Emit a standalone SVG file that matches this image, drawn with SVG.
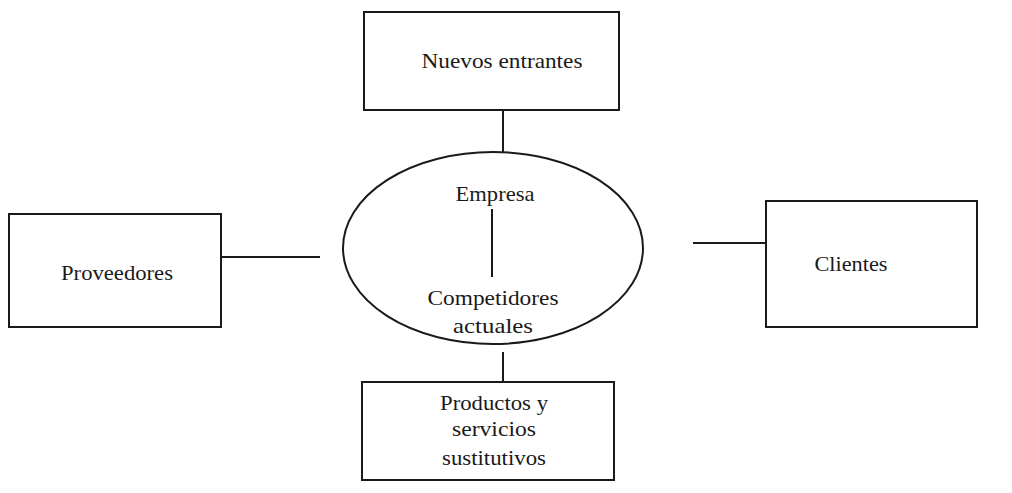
<svg xmlns="http://www.w3.org/2000/svg" width="1012" height="493" viewBox="0 0 1012 493">
<style>
.box{fill:#ffffff;stroke:#1a1a1a;stroke-width:2}
.ln{stroke:#1a1a1a;stroke-width:2;fill:none}
.t{font-family:"Liberation Serif","Times New Roman",serif;font-size:21px;fill:#1a1a1a;text-anchor:middle}
</style>
<rect width="1012" height="493" fill="#ffffff"/>
<g id="nuevos-entrantes">
<rect class="box" x="364" y="12" width="255" height="98"/>
<text class="t" x="502" y="68" textLength="161" lengthAdjust="spacingAndGlyphs">Nuevos entrantes</text>
</g>
<g id="empresa">
<ellipse class="box" cx="493" cy="248" rx="150" ry="96"/>
<text class="t" x="495" y="201" textLength="79" lengthAdjust="spacingAndGlyphs">Empresa</text>
<text class="t" x="493" y="305" textLength="131" lengthAdjust="spacingAndGlyphs">Competidores</text>
<text class="t" x="493" y="333" textLength="80" lengthAdjust="spacingAndGlyphs">actuales</text>
</g>
<g id="proveedores">
<rect class="box" x="9" y="214" width="212" height="113"/>
<text class="t" x="117" y="280" textLength="112" lengthAdjust="spacingAndGlyphs">Proveedores</text>
</g>
<g id="clientes">
<rect class="box" x="766" y="201" width="211" height="126"/>
<text class="t" x="851" y="271" textLength="73" lengthAdjust="spacingAndGlyphs">Clientes</text>
</g>
<g id="productos">
<rect class="box" x="362" y="382" width="252" height="98"/>
<text class="t" x="494" y="410" textLength="108" lengthAdjust="spacingAndGlyphs">Productos y</text>
<text class="t" x="494" y="436" textLength="84" lengthAdjust="spacingAndGlyphs">servicios</text>
<text class="t" x="494" y="465" textLength="104" lengthAdjust="spacingAndGlyphs">sustitutivos</text>
</g>
<g id="connectors">
<line class="ln" x1="503" y1="110" x2="503" y2="153"/>
<line class="ln" x1="503" y1="352" x2="503" y2="382"/>
<line class="ln" x1="221" y1="257" x2="320" y2="257"/>
<line class="ln" x1="693" y1="243" x2="766" y2="243"/>
<line class="ln" x1="492" y1="209" x2="492" y2="277"/>
</g>
</svg>
